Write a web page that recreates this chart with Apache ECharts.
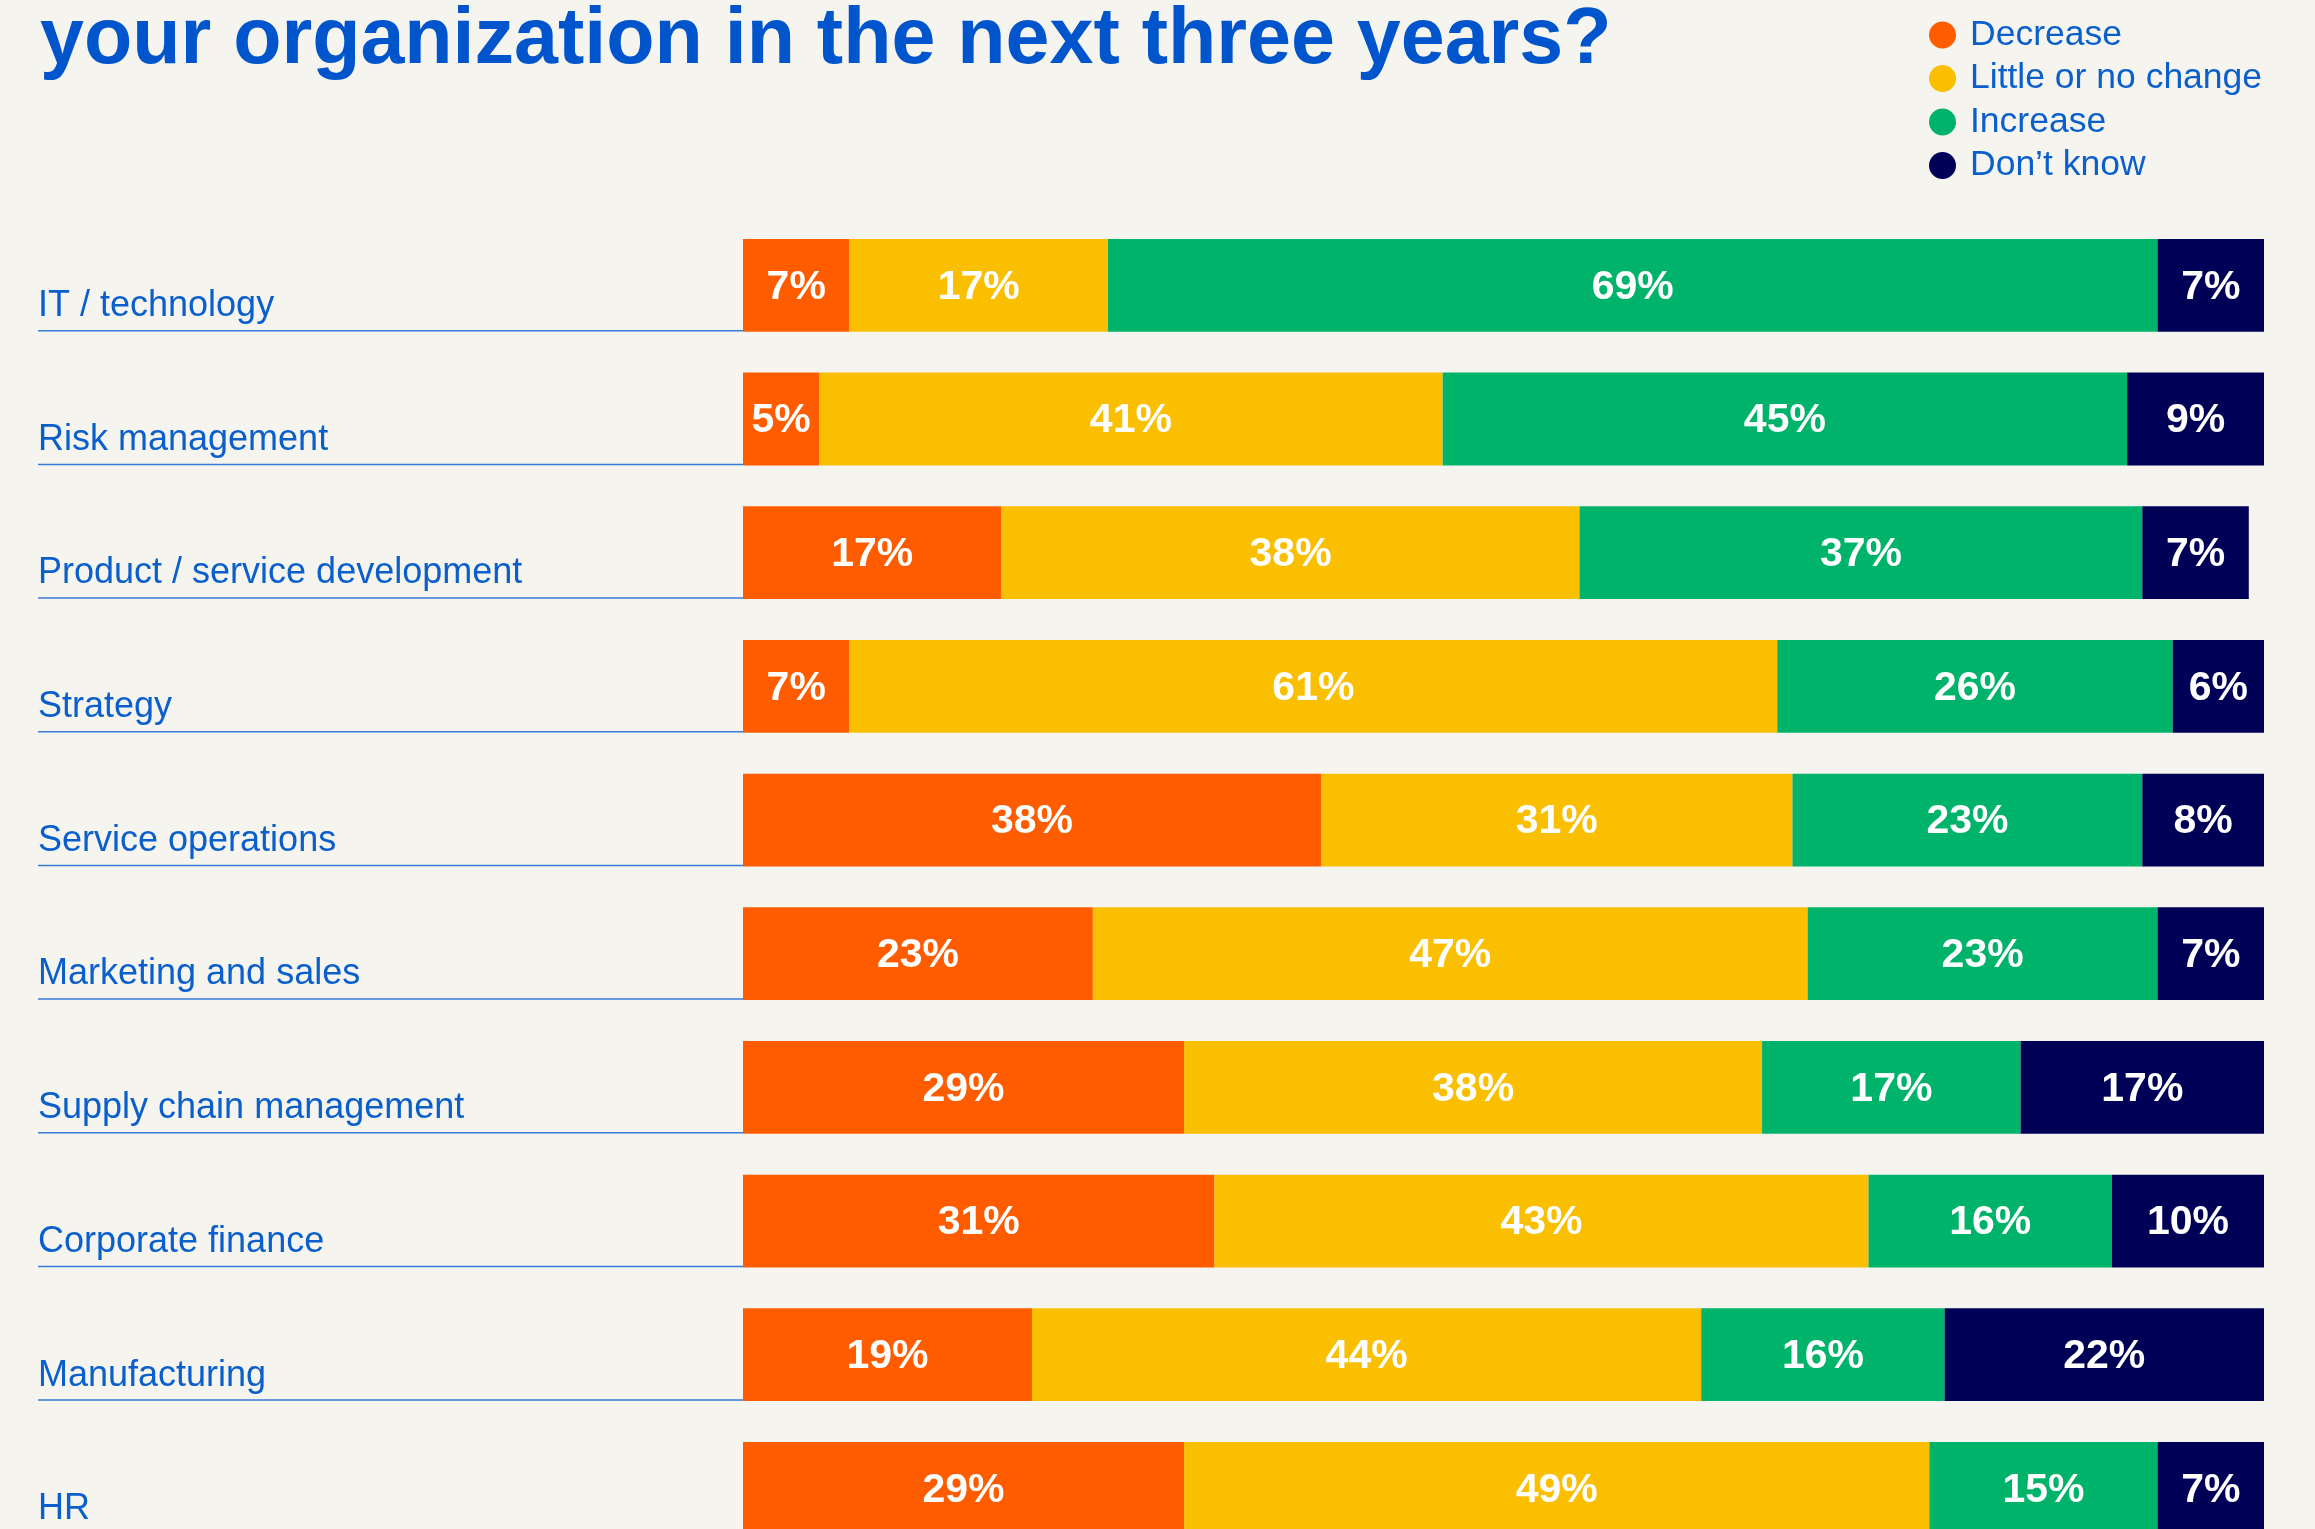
<!DOCTYPE html>
<html>
<head>
<meta charset="utf-8">
<style>
  html, body { margin: 0; padding: 0; background: #F5F4EF; }
  #chart { width: 2315px; height: 1529px; }
</style>
<script src="https://cdn.jsdelivr.net/npm/echarts@6/dist/echarts.min.js"></script>
</head>
<body>
<div id="chart"></div>
<script>
// Functions, top to bottom
const categories = [
  'IT / technology',
  'Risk management',
  'Product / service development',
  'Strategy',
  'Service operations',
  'Marketing and sales',
  'Supply chain management',
  'Corporate finance',
  'Manufacturing',
  'HR'
];

// Share of respondents (%) per expected change
const decrease     = [7, 5, 17, 7, 38, 23, 29, 31, 19, 29];
const littleChange = [17, 41, 38, 61, 31, 47, 38, 43, 44, 49];
const increase     = [69, 45, 37, 26, 23, 23, 17, 16, 16, 15];
const dontKnow     = [7, 9, 7, 6, 8, 7, 17, 10, 22, 7];

const seriesNames = ['Decrease', 'Little or no change', 'Increase', 'Don\u2019t know'];
const seriesColors = ['#FF5C00', '#F9BF00', '#00B36B', '#000057'];

const FONT = '"Liberation Sans", Arial, sans-serif';
const BLUE = '#0A5FCC';
const GAP_FRAC = 0.306;        // empty share of each category band
const LABEL_INDENT = 705;      // distance from row label start to bar start

const chart = echarts.init(document.getElementById('chart'), null, { renderer: 'canvas' });

function barSeries(name, values, color) {
  return {
    name: name,
    type: 'bar',
    stack: 'total',
    data: values,
    barCategoryGap: (GAP_FRAC * 100) + '%',
    itemStyle: { color: color },
    z: 3,
    label: {
      show: true,
      position: 'inside',
      offset: [0, 2],
      formatter: '{c}%',
      color: '#FFFFFF',
      fontFamily: FONT,
      fontWeight: 'bold',
      fontSize: 41
    },
    emphasis: { disabled: true }
  };
}

// Row names with a thin rule running from the name to the bar
const rowDecor = {
  type: 'custom',
  coordinateSystem: 'cartesian2d',
  silent: true,
  clip: false,
  z: 1,
  encode: { x: 0, y: 1 },
  data: categories.map((c, i) => [0, i]),
  renderItem: function (params, api) {
    const idx = api.value(1);
    const pt = api.coord([0, idx]);
    const band = api.size([0, 1])[1];
    const barBottom = pt[1] + band * (1 - GAP_FRAC) / 2;
    const cs = params.coordSys;
    const x0 = cs.x - LABEL_INDENT;
    return {
      type: 'group',
      children: [
        {
          type: 'line',
          shape: { x1: x0, y1: barBottom - 1, x2: cs.x, y2: barBottom - 1 },
          style: { stroke: '#3A7BD5', lineWidth: 1.5 }
        },
        {
          type: 'text',
          style: {
            x: x0,
            y: barBottom - 25.5,
            text: categories[idx],
            fill: BLUE,
            font: '36px ' + FONT,
            textAlign: 'left',
            textVerticalAlign: 'middle'
          }
        }
      ]
    };
  }
};

const option = {
  backgroundColor: '#F5F4EF',
  animation: false,
  title: {
    text: 'your organization in the next three years?',
    left: 40,
    top: 2,
    padding: 0,
    textStyle: {
      color: '#0055CC',
      fontFamily: FONT,
      fontWeight: 'bold',
      fontSize: 79,
      lineHeight: 79
    }
  },
  legend: {
    orient: 'vertical',
    left: 1929,
    top: 17,
    padding: 0,
    icon: 'circle',
    itemWidth: 27,
    itemHeight: 27,
    itemGap: 7.5,
    selectedMode: false,
    data: seriesNames,
    textStyle: {
      color: BLUE,
      fontFamily: FONT,
      fontSize: 35.5,
      padding: [0, 0, 0, 9]
    }
  },
  grid: {
    left: 743,
    top: 218.5,
    width: 1521,
    height: 1336.7,
    containLabel: false,
    outerBoundsMode: 'none'
  },
  xAxis: {
    type: 'value',
    min: 0,
    max: 100,
    show: false
  },
  yAxis: {
    type: 'category',
    data: categories,
    inverse: true,
    show: false
  },
  series: [
    rowDecor,
    barSeries(seriesNames[0], decrease, seriesColors[0]),
    barSeries(seriesNames[1], littleChange, seriesColors[1]),
    barSeries(seriesNames[2], increase, seriesColors[2]),
    barSeries(seriesNames[3], dontKnow, seriesColors[3])
  ]
};

chart.setOption(option);
</script>
</body>
</html>
